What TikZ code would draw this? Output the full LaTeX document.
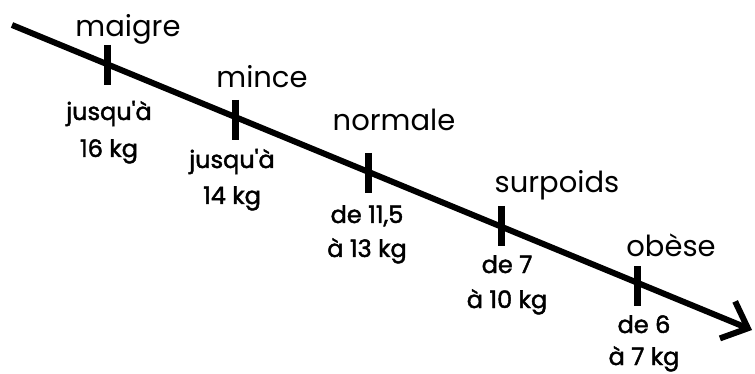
\documentclass[tikz,border=0pt]{standalone}
\usepackage{fontspec}
\usepackage{tikz}
\usetikzlibrary{arrows.meta}
\setmainfont{Poppins}
\newfontfamily\kilofont{Poppins}[FakeBold=1.8]
\definecolor{inkc}{HTML}{000000}

\begin{document}
\begin{tikzpicture}[x=1pt, y=-1pt,
  cat/.style={anchor=base, inner sep=0pt, font=\fontsize{29}{29}\selectfont},
  kilo/.style={anchor=base, inner sep=0pt, font=\fontsize{24}{24}\kilofont}]
  \useasboundingbox (0,0) rectangle (755,374);
  % main axis
  \coordinate (start) at (12,25);
  \coordinate (end) at (752,330);
  \draw[inkc, line width=6pt, -{Straight Barb[length=22pt, width=40pt]}] (start) -- (end);
  % ticks, names above, weights below (two lines)
  \foreach \name/\tx/\ty/\cx/\cy/\lab/\wx/\wy/\wa/\vy/\wb in {
      maigre/107/65/128/37/maigre/109/120/jusqu'à/157/16 kg,
      mince/235/120/262/88/mince/232/168/jusqu'à/204/14 kg,
      normale/368/173/394/131/normale/367/223/de 11{,}5/257/à 13 kg,
      surpoids/501/226/557/193/surpoids/507/273/de 7/308/à 10 kg,
      obese/637/286/671/256/obèse/644/333/de 6/365/à 7 kg} {
    \coordinate (t-\name) at (\tx,\ty);
    \draw[inkc, line width=7pt] ([yshift=20pt]t-\name) -- ([yshift=-20pt]t-\name);
    \node[cat] (n-\name) at (\cx,\cy) {\lab};
    \node[kilo] (w-\name) at (\wx,\wy) {\wa};
    \node[kilo] (v-\name) at (\wx,\vy) {\wb};
  }
\end{tikzpicture}
\end{document}
